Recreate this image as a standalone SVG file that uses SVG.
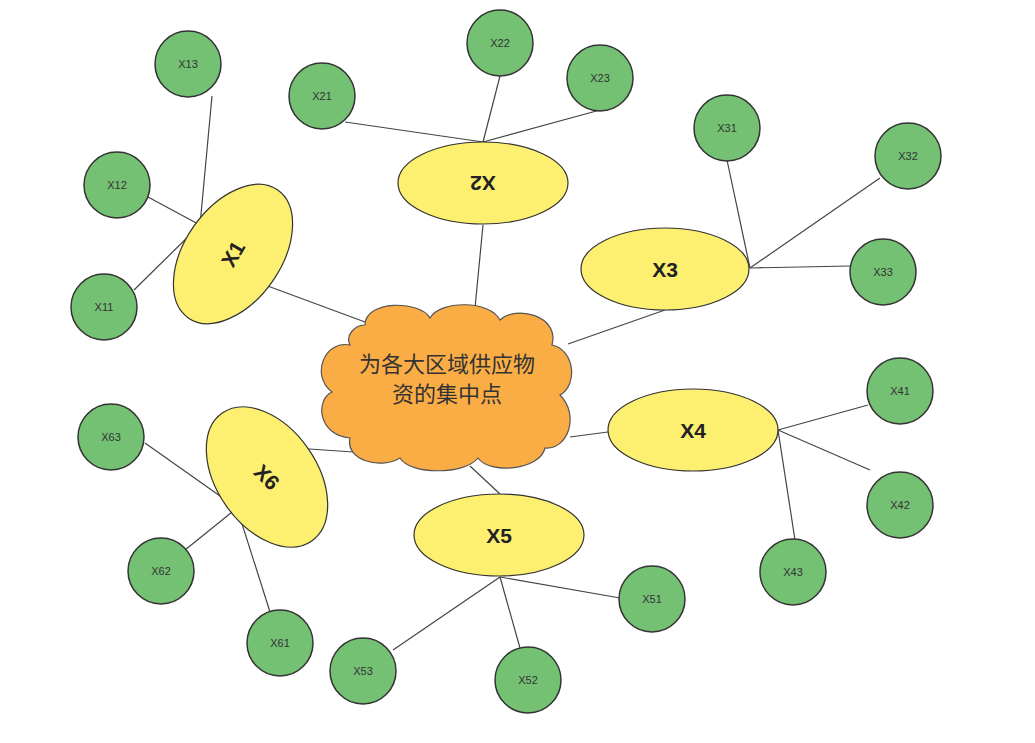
<svg xmlns="http://www.w3.org/2000/svg" width="1035" height="743" viewBox="0 0 1035 743">
<style>
.c{fill:#74c173;stroke:#333;stroke-width:1.5}
.e{fill:#fdef70;stroke:#333;stroke-width:1.2}
.t{font-family:"Liberation Sans",sans-serif;font-size:11px;fill:#333;text-anchor:middle;dominant-baseline:central}
.b{font-family:"Liberation Sans",sans-serif;font-size:21px;font-weight:bold;fill:#222;text-anchor:middle;dominant-baseline:central}
#edges line{stroke:#444;stroke-width:1.2}
</style>
<rect width="1035" height="743" fill="#fff"/>
<g id="edges">
<line x1="212" y1="96" x2="200" y2="225"/><line x1="148" y1="197" x2="200" y2="225"/><line x1="134" y1="290" x2="200" y2="225"/><line x1="265" y1="285" x2="365" y2="322"/>
<line x1="345" y1="122" x2="483" y2="142"/><line x1="500" y1="76" x2="483" y2="142"/><line x1="600" y1="110" x2="483" y2="142"/><line x1="483" y1="225" x2="475" y2="308"/>
<line x1="727" y1="160" x2="750" y2="268"/><line x1="880" y1="178" x2="750" y2="268"/><line x1="850" y1="266" x2="750" y2="268"/><line x1="665" y1="310" x2="568" y2="344"/>
<line x1="868" y1="405" x2="778" y2="430"/><line x1="870" y1="470" x2="778" y2="430"/><line x1="795" y1="540" x2="778" y2="430"/><line x1="608" y1="432" x2="570" y2="437"/>
<line x1="620" y1="598" x2="500" y2="577"/><line x1="520" y1="648" x2="500" y2="577"/><line x1="393" y1="650" x2="500" y2="577"/><line x1="500" y1="494" x2="470" y2="466"/>
<line x1="145" y1="443" x2="237" y2="508"/><line x1="185" y1="550" x2="237" y2="508"/><line x1="270" y1="612" x2="237" y2="508"/><line x1="295" y1="448" x2="368" y2="453"/>
</g>
<g id="center"><path d="M365,325 C365,300 420,300 430,318 C440,300 490,300 500,320 C515,305 560,315 552,345 C575,350 578,385 560,395 C580,415 568,450 545,448 C540,470 490,475 478,458 C465,475 410,475 400,458 C380,470 345,460 350,438 C318,435 315,400 332,392 C310,375 325,340 350,345 C345,335 355,325 365,325 Z" fill="#fbad45" stroke="#555" stroke-width="1.2"/>
<text x="447" y="372" font-family="'Noto Sans CJK SC',sans-serif" font-size="22" fill="#333" text-anchor="middle">为各大区域供应物</text>
<text x="447" y="402" font-family="'Noto Sans CJK SC',sans-serif" font-size="22" fill="#333" text-anchor="middle">资的集中点</text></g>
<g id="X1"><ellipse class="e" cx="233" cy="254" rx="48" ry="78" transform="rotate(35 233 254)"/><text class="b" x="233" y="254" transform="rotate(-60 233 254)">X1</text></g>
<g id="X2"><ellipse class="e" cx="483" cy="183" rx="85" ry="41"/><text class="b" x="483" y="183" transform="rotate(180 483 183)">X2</text></g>
<g id="X3"><ellipse class="e" cx="665" cy="269" rx="84" ry="41"/><text class="b" x="665" y="269">X3</text></g>
<g id="X4"><ellipse class="e" cx="693" cy="430" rx="85" ry="41"/><text class="b" x="693" y="430">X4</text></g>
<g id="X5"><ellipse class="e" cx="499" cy="535" rx="85" ry="41"/><text class="b" x="499" y="535">X5</text></g>
<g id="X6"><ellipse class="e" cx="267" cy="477" rx="50" ry="78" transform="rotate(-35 267 477)"/><text class="b" x="267" y="477" transform="rotate(45 267 477)">X6</text></g>
<g id="X13"><circle class="c" cx="188" cy="64" r="33"/><text class="t" x="188" y="64">X13</text></g>
<g id="X12"><circle class="c" cx="117" cy="185" r="33"/><text class="t" x="117" y="185">X12</text></g>
<g id="X11"><circle class="c" cx="104" cy="307" r="33"/><text class="t" x="104" y="307">X11</text></g>
<g id="X21"><circle class="c" cx="322" cy="96" r="33"/><text class="t" x="322" y="96">X21</text></g>
<g id="X22"><circle class="c" cx="500" cy="43" r="33"/><text class="t" x="500" y="43">X22</text></g>
<g id="X23"><circle class="c" cx="600" cy="78" r="33"/><text class="t" x="600" y="78">X23</text></g>
<g id="X31"><circle class="c" cx="727" cy="128" r="33"/><text class="t" x="727" y="128">X31</text></g>
<g id="X32"><circle class="c" cx="908" cy="156" r="33"/><text class="t" x="908" y="156">X32</text></g>
<g id="X33"><circle class="c" cx="883" cy="272" r="33"/><text class="t" x="883" y="272">X33</text></g>
<g id="X41"><circle class="c" cx="900" cy="391" r="33"/><text class="t" x="900" y="391">X41</text></g>
<g id="X42"><circle class="c" cx="900" cy="505" r="33"/><text class="t" x="900" y="505">X42</text></g>
<g id="X43"><circle class="c" cx="793" cy="572" r="33"/><text class="t" x="793" y="572">X43</text></g>
<g id="X51"><circle class="c" cx="652" cy="599" r="33"/><text class="t" x="652" y="599">X51</text></g>
<g id="X52"><circle class="c" cx="528" cy="680" r="33"/><text class="t" x="528" y="680">X52</text></g>
<g id="X53"><circle class="c" cx="363" cy="671" r="33"/><text class="t" x="363" y="671">X53</text></g>
<g id="X61"><circle class="c" cx="280" cy="643" r="33"/><text class="t" x="280" y="643">X61</text></g>
<g id="X62"><circle class="c" cx="161" cy="571" r="33"/><text class="t" x="161" y="571">X62</text></g>
<g id="X63"><circle class="c" cx="111" cy="437" r="33"/><text class="t" x="111" y="437">X63</text></g>
</svg>
